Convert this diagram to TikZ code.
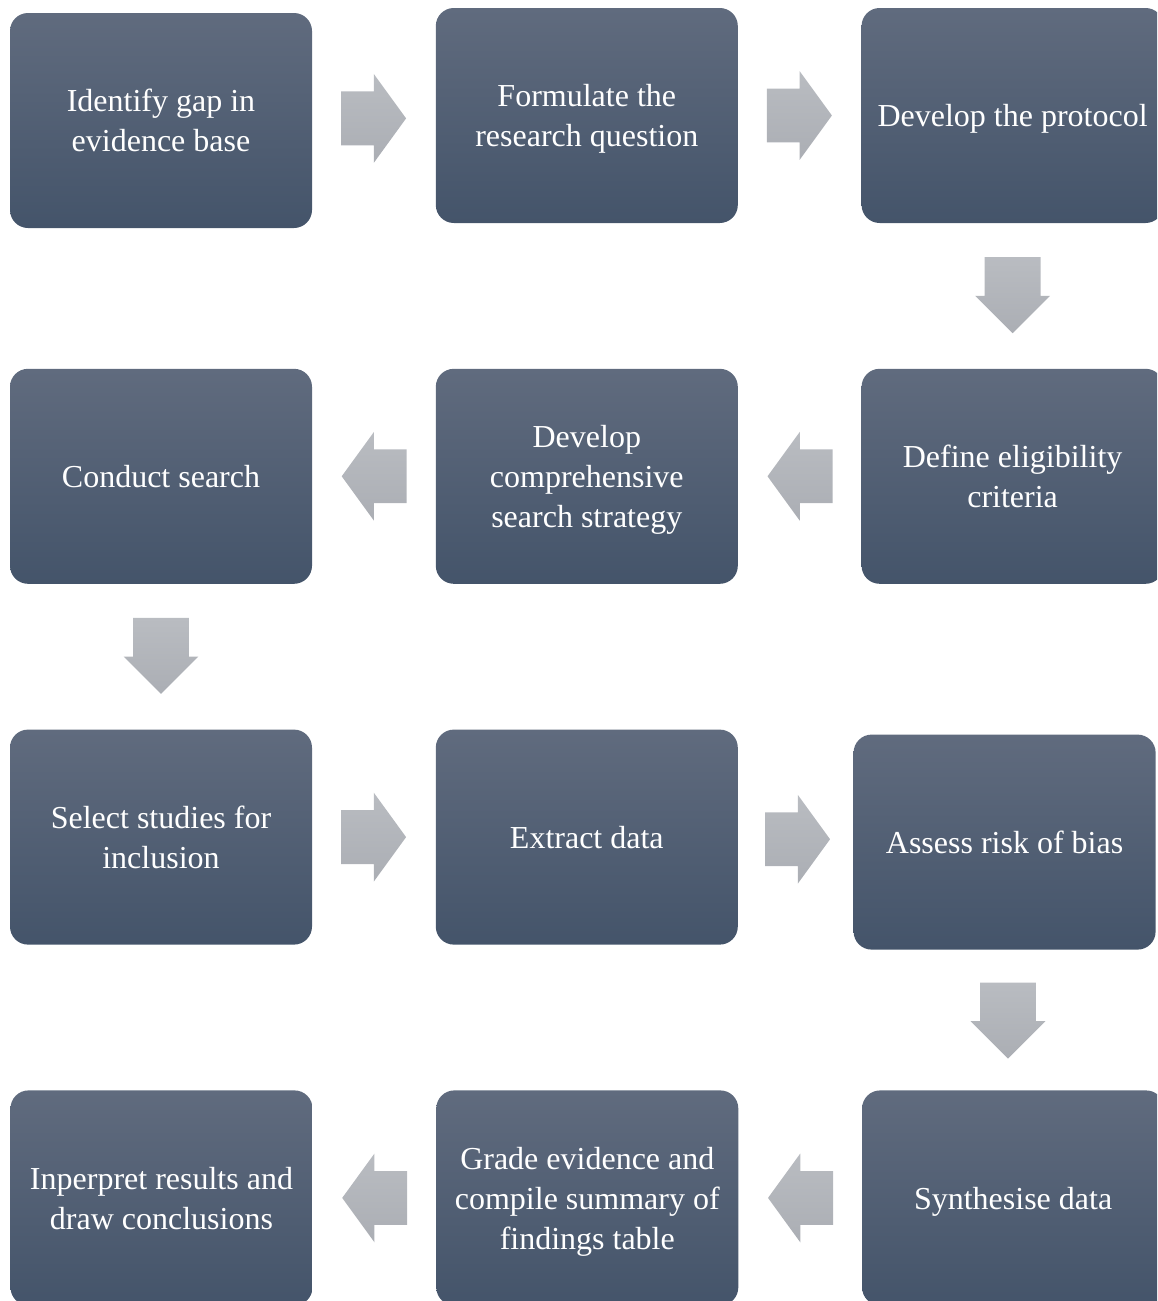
\documentclass[tikz,border=0pt]{standalone}
\usepackage{fontspec}
\setmainfont{Liberation Serif}
\usepackage{tikz}
\usetikzlibrary{shapes.arrows,positioning}

\definecolor{boxtop}{HTML}{606B7E}
\definecolor{boxbottom}{HTML}{44546A}
\definecolor{arrowtop}{HTML}{B9BCC1}
\definecolor{arrowbottom}{HTML}{ABAEB4}

\begin{document}
\begin{tikzpicture}[x=0.5pt,y=-0.5pt,
  node distance=72.5pt and 61.5pt,
  stepbox/.style={rounded corners=9pt,minimum width=151pt,minimum height=107.5pt,
    top color=boxtop,bottom color=boxbottom,text=white,align=center,
    inner sep=2pt,text depth=-5pt,font=\fontsize{16pt}{20pt}\selectfont},
  blockarrow/.style={single arrow,minimum height=32.5pt,minimum width=44pt,
    single arrow head extend=8.75pt,single arrow tip angle=108,
    inner xsep=0pt,inner ysep=13.25pt,anchor=tail,pos=0.23,
    top color=arrowtop,bottom color=arrowbottom},
  downarrow/.style={single arrow,shape border rotate=270,minimum height=38pt,
    minimum width=37pt,single arrow head extend=4.75pt,single arrow tip angle=90,
    inner xsep=13.75pt,inner ysep=0pt,anchor=tail,pos=0.23,
    top color=arrowtop,bottom color=arrowbottom},
]
  \useasboundingbox (0,0) rectangle (1157,1301);
  \clip (0,0) rectangle (1157,1301);

  % row 1
  \node[stepbox] (gap) at (161,120.5) {Identify gap in\\evidence base};
  \node[stepbox,right=of gap,yshift=2.5pt] (question) {Formulate the\\research question};
  \node[stepbox,right=of question] (protocol) {Develop the protocol};
  % row 2
  \node[stepbox,below=of protocol] (criteria) {Define eligibility\\criteria};
  \node[stepbox,left=of criteria] (strategy) {Develop\\comprehensive\\search strategy};
  \node[stepbox,left=of strategy] (search) {Conduct search};
  % row 3
  \node[stepbox,below=of search] (select) {Select studies for\\inclusion};
  \node[stepbox,right=of select] (extract) {Extract data};
  \node[stepbox,right=of extract,xshift=-4pt,yshift=-2.5pt] (bias) {Assess risk of bias};
  % row 4
  \node[stepbox,below=of bias,xshift=4.25pt,yshift=2.5pt] (synth) {Synthesise data};
  \node[stepbox,left=of synth] (grade) {Grade evidence and\\compile summary of\\findings table};
  \node[stepbox,left=of grade] (interpret) {Inperpret results and\\draw conclusions};

  % block arrows between the steps
  \path (gap) -- node[blockarrow]{} (question);
  \path (question) -- node[blockarrow]{} (protocol);
  \path (protocol) -- node[downarrow]{} (criteria);
  \path (criteria) -- node[blockarrow,shape border rotate=180]{} (strategy);
  \path (strategy) -- node[blockarrow,shape border rotate=180]{} (search);
  \path (search) -- node[downarrow]{} (select);
  \path (select) -- node[blockarrow]{} (extract);
  \path (extract) -- node[blockarrow]{} (bias);
  \path (bias) -- node[downarrow]{} (synth);
  \path (synth) -- node[blockarrow,shape border rotate=180]{} (grade);
  \path (grade) -- node[blockarrow,shape border rotate=180]{} (interpret);
\end{tikzpicture}
\end{document}
